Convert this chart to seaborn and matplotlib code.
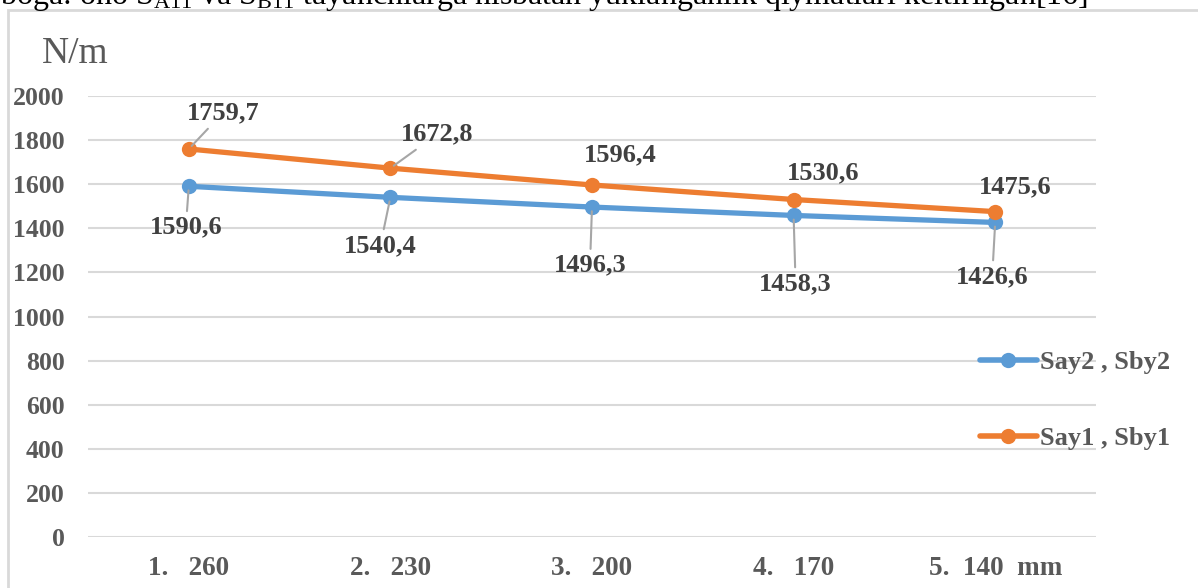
import matplotlib
matplotlib.use("Agg")
import matplotlib.pyplot as plt
from matplotlib.patches import Rectangle
import seaborn as sns
import pandas as pd

categories = ["1.   260", "2.   230", "3.   200", "4.   170", "5.  140  mm"]
say1 = [1759.7, 1672.8, 1596.4, 1530.6, 1475.6]
say2 = [1590.6, 1540.4, 1496.3, 1458.3, 1426.6]
name1 = "Say1 , Sby1"
name2 = "Say2 , Sby2"
yticks = [0, 200, 400, 600, 800, 1000, 1200, 1400, 1600, 1800, 2000]

df = pd.DataFrame({
    "cat": categories * 2,
    "val": say2 + say1,
    "series": [name2] * 5 + [name1] * 5,
})

sns.set_theme(style="white")
plt.rcParams["font.family"] = ["Liberation Serif", "DejaVu Serif"]
plt.rcParams["mathtext.fontset"] = "custom"
plt.rcParams["mathtext.rm"] = "Liberation Serif"
plt.rcParams["mathtext.it"] = "Liberation Serif"

W, H = 1198, 588
fig = plt.figure(figsize=(W / 100, H / 100), dpi=100)
ax = fig.add_axes([88 / W, (H - 537) / H, 1008 / W, 441 / H])

grey = "#595959"
blue = "#5B9BD5"
orange = "#ED7D31"

# chart border
fig.patches.append(Rectangle((8 / W, -0.2), 1.2, 1.2 - 10 / H, transform=fig.transFigure,
                             facecolor="none", edgecolor="#d9d9d9", linewidth=2, zorder=0))

# clipped document text at the top
fig.text(0.0, 1 - 4 / H,
         "boga: ono S$_{\\mathrm{A11}}$ va S$_{\\mathrm{B11}}$ tayanchlarga nisbatan yuklanganlik qiymatlari keltirilgan[16]",
         fontsize=23, color="black", ha="left", va="baseline")

sns.lineplot(data=df, x="cat", y="val", hue="series", hue_order=[name2, name1],
             palette=[blue, orange], marker="o", markersize=11, markeredgewidth=0,
             linewidth=3.8, sort=False, ax=ax)

ax.set_xlim(-0.5, 4.5)
ax.set_ylim(0, 2000)
ax.set_yticks(yticks)
ax.set_yticklabels([str(v) for v in yticks])
ax.grid(axis="y", color="#d9d9d9", linewidth=1.5)
ax.grid(axis="x", visible=False)
for s in ax.spines.values():
    s.set_visible(False)
ax.set_xlabel("")
ax.set_ylabel("")
ax.tick_params(axis="y", length=0, pad=17, labelsize=18.5, labelcolor=grey)
ax.tick_params(axis="x", length=0, pad=14, labelsize=19.5, labelcolor=grey)
for lab in ax.get_xticklabels() + ax.get_yticklabels():
    lab.set_fontweight("bold")

fig.text(42 / W, 1 - 54 / H, "N/m", fontsize=27, color=grey, ha="left", va="center")

# data labels
off1 = [(34, 36), (47, 34), (28, 30), (30, 27), (20, 25)]
lead1 = [True, True, False, False, False]
off2 = [(-3, -41), (-10, -48), (-2, -58), (2, -68), (-3, -54)]
lead2 = [True, True, True, True, True]
line_props = dict(arrowstyle="-", color="#a6a6a6", lw=1.5, shrinkA=1, shrinkB=3)
for i, c in enumerate(categories):
    ax.annotate(f"{say1[i]:.1f}".replace(".", ","), xy=(i, say1[i]), xytext=off1[i],
                textcoords="offset pixels", ha="center", va="center", fontsize=19,
                fontweight="bold", color="#404040",
                arrowprops=line_props if lead1[i] else None, zorder=5)
    ax.annotate(f"{say2[i]:.1f}".replace(".", ","), xy=(i, say2[i]), xytext=off2[i],
                textcoords="offset pixels", ha="center", va="center", fontsize=19,
                fontweight="bold", color="#404040",
                arrowprops=line_props if lead2[i] else None, zorder=5)

leg = ax.legend(loc="center left", bbox_to_anchor=(980 / W, 1 - 400.5 / H),
                bbox_transform=fig.transFigure, frameon=False, handlelength=2.16,
                handletextpad=0.12, labelspacing=2.0, borderaxespad=0, borderpad=0,
                prop={"size": 19, "weight": "bold"})
for t in leg.get_texts():
    t.set_color(grey)
for h in leg.legend_handles:
    h.set_linewidth(4)

fig.savefig("out.png", dpi=100, facecolor="white")
